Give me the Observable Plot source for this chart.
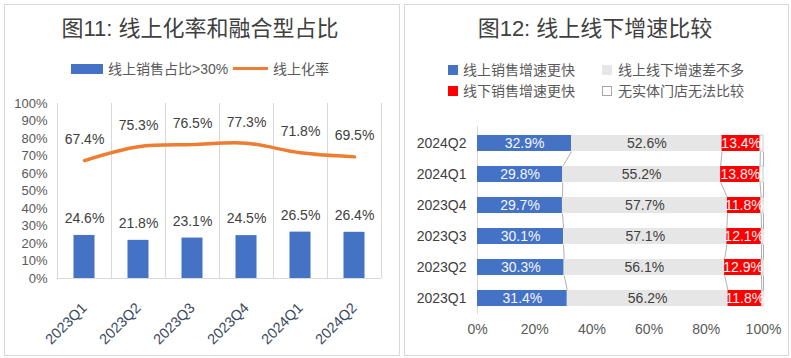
<!DOCTYPE html>
<html><head><meta charset="utf-8">
<script src="https://cdn.jsdelivr.net/npm/d3@7"></script>
<script src="https://cdn.jsdelivr.net/npm/@observablehq/plot@0.6"></script>
<style>
body{margin:0;width:791px;height:358px;position:relative;background:#fff;font-family:"Liberation Sans","Noto Sans CJK SC",sans-serif;overflow:hidden}
.panel{position:absolute;border:1px solid #d9d9d9;box-sizing:border-box;background:#fff}
.abs{position:absolute;white-space:nowrap;line-height:1}
.title{font-size:22px;color:#404040;transform:translate(-50%,-50%)}
.leg{font-size:14px;color:#595959;transform:translateY(-50%)}
.sw{position:absolute;box-sizing:border-box}
#c1{position:absolute;left:5px;top:88px}
#c2{position:absolute;left:405px;top:115px}
</style></head><body>
<div class="panel" style="left:4px;top:4px;width:396px;height:352px"></div>
<div class="panel" style="left:404px;top:4px;width:385px;height:352px"></div>

<div class="abs title" style="left:200px;top:29px">图11: 线上化率和融合型占比</div>
<div class="sw" style="left:71px;top:64px;width:32px;height:10px;background:#4472c4"></div>
<div class="abs leg" style="left:108px;top:69px">线上销售占比&gt;30%</div>
<div class="sw" style="left:233px;top:67px;width:35px;height:3px;background:#ed7d31"></div>
<div class="abs leg" style="left:273px;top:69px">线上化率</div>

<div class="abs title" style="left:595px;top:29px">图12: 线上线下增速比较</div>
<div class="sw" style="left:448px;top:65px;width:10px;height:10px;background:#4472c4"></div>
<div class="abs leg" style="left:463px;top:70px">线上销售增速更快</div>
<div class="sw" style="left:602px;top:65px;width:10px;height:10px;background:#e7e6e6"></div>
<div class="abs leg" style="left:618px;top:70px">线上线下增速差不多</div>
<div class="sw" style="left:448px;top:86px;width:10px;height:10px;background:#ff0000"></div>
<div class="abs leg" style="left:463px;top:91px">线下销售增速更快</div>
<div class="sw" style="left:602px;top:86px;width:10px;height:10px;background:#fff;border:1px solid #a6a6a6"></div>
<div class="abs leg" style="left:618px;top:91px">无实体门店无法比较</div>

<div id="c1"></div>
<div id="c2"></div>
<script>
// ---- Figure 11 data ----
const quarters = ["2023Q1","2023Q2","2023Q3","2023Q4","2024Q1","2024Q2"];
const share30 = [24.6,21.8,23.1,24.5,26.5,26.4];
const onlineRate = [67.4,75.3,76.5,77.3,71.8,69.5];
const yTicks1 = [0,10,20,30,40,50,60,70,80,90,100];

// ---- Figure 12 data ----
const rowsQ = ["2024Q2","2024Q1","2023Q4","2023Q3","2023Q2","2023Q1"];
const onlineFaster = [32.9,29.8,29.7,30.1,30.3,31.4];
const similar = [52.6,55.2,57.7,57.1,56.1,56.2];
const offlineFaster = [13.4,13.8,11.8,12.1,12.9,11.8];
const noStore = [1.1,1.2,0.8,0.7,0.7,0.6];
const seriesNames = ["线上销售增速更快","线上线下增速差不多","线下销售增速更快","无实体门店无法比较"];
const xTicks2 = [0,20,40,60,80,100];

const FONT = '"Liberation Sans","Noto Sans CJK SC",sans-serif';
const pct = v => v.toFixed(1) + "%";

// ---------- Chart 1 ----------
const t1 = quarters.map((q,i)=>({q, s:share30[i], r:onlineRate[i]}));
const W1=393,H1=266,ml1=52,mr1=17,mt1=15,mb1=76;
const bw1=(W1-ml1-mr1)/quarters.length;
const chart1 = Plot.plot({
  width:W1,height:H1,marginLeft:ml1,marginRight:mr1,marginTop:mt1,marginBottom:mb1,
  style:{fontFamily:FONT,fontSize:"13px",color:"#595959",background:"transparent"},
  x:{domain:quarters,padding:0,label:null},
  y:{domain:[0,100],label:null},
  marks:[
    Plot.ruleX(quarters,{x:d=>d,dx:-bw1/2,stroke:"#d9d9d9"}),
    Plot.ruleX(quarters.slice(-1),{x:d=>d,dx:bw1/2,stroke:"#d9d9d9"}),
    Plot.ruleY([0],{stroke:"#d9d9d9"}),
    Plot.barY(t1,{x:"q",y:"s",fill:"#4472c4",insetLeft:16.5,insetRight:16.5}),
    Plot.line(t1,{x:"q",y:"r",stroke:"#ed7d31",strokeWidth:3.5,curve:"catmull-rom"}),
    Plot.text(t1,{x:"q",y:"s",text:d=>pct(d.s),dy:-17,fill:"#404040",fontSize:14}),
    Plot.text(t1,{x:"q",y:"r",text:d=>pct(d.r),dy:-21,fill:"#404040",fontSize:14}),
    Plot.axisY({ticks:yTicks1,tickFormat:d=>d+"%",tickSize:0,tickPadding:10,fontSize:13}),
    Plot.axisX({tickRotate:-45,tickSize:0,tickPadding:27,fontSize:14.5,fill:"#3b4a5e"})
  ]
});
document.getElementById("c1").append(chart1);

// ---------- Chart 2 ----------
const seriesVals = [onlineFaster, similar, offlineFaster, noStore];
const fills = ["#4472c4","#e7e6e6","#ff0000","#ffffff"];
const labelFill = ["#f4f6ff","#404040","#fff4f4","none"];
const t2 = rowsQ.flatMap((q,i)=>seriesVals.map((arr,k)=>({q,k,name:seriesNames[k],v:arr[i]})));

const W2=381,H2=240,ml2=72,mr2=23,mt2=11,mb2=41;
const padIn=0.49,padOut=0.25;
const step2=(H2-mt2-mb2)/(rowsQ.length-padIn+2*padOut);
const hh=step2*(1-padIn)/2;

// series lines between adjacent rows, at each cumulative boundary
const links=[];
for(let i=0;i<rowsQ.length-1;i++){
  let a=0,b=0;
  for(let k=0;k<seriesVals.length;k++){
    a+=seriesVals[k][i]; b+=seriesVals[k][i+1];
    links.push({x1:a,x2:b,y1:rowsQ[i],y2:rowsQ[i+1]});
  }
}
// curve: from bottom edge of upper bar to top edge of lower bar
function edgeCurve(ctx){let n=0;return{lineStart(){n=0},lineEnd(){},point(x,y){if(n++===0)ctx.moveTo(x,y+hh);else ctx.lineTo(x,y-hh);}};}

const chart2 = Plot.plot({
  width:W2,height:H2,marginLeft:ml2,marginRight:mr2,marginTop:mt2,marginBottom:mb2,
  style:{fontFamily:FONT,fontSize:"14px",color:"#595959",background:"transparent"},
  x:{domain:[0,100],label:null},
  y:{domain:rowsQ,paddingInner:padIn,paddingOuter:padOut,label:null},
  color:{type:"identity"},
  marks:[
    Plot.ruleX([0],{stroke:"#d9d9d9"}),
    Plot.link(links,{x1:"x1",x2:"x2",y1:"y1",y2:"y2",stroke:"#9a9a9a",strokeWidth:0.8,curve:edgeCurve}),
    Plot.barX(t2,Plot.stackX({x:"v",y:"q",z:"k",fill:d=>fills[d.k],stroke:d=>d.k===3?"#bfbfbf":"none",strokeWidth:0.8})),
    Plot.text(t2,Plot.stackX({x:"v",y:"q",z:"k",text:d=>d.k<3?pct(d.v):"",fill:d=>labelFill[d.k],fontSize:14})),
    Plot.axisY({tickSize:0,tickPadding:11,fontSize:14,fill:"#404040"}),
    Plot.axisX({ticks:xTicks2,tickFormat:d=>d+"%",tickSize:0,tickPadding:10,fontSize:14})
  ]
});
document.getElementById("c2").append(chart2);
</script>
</body></html>
